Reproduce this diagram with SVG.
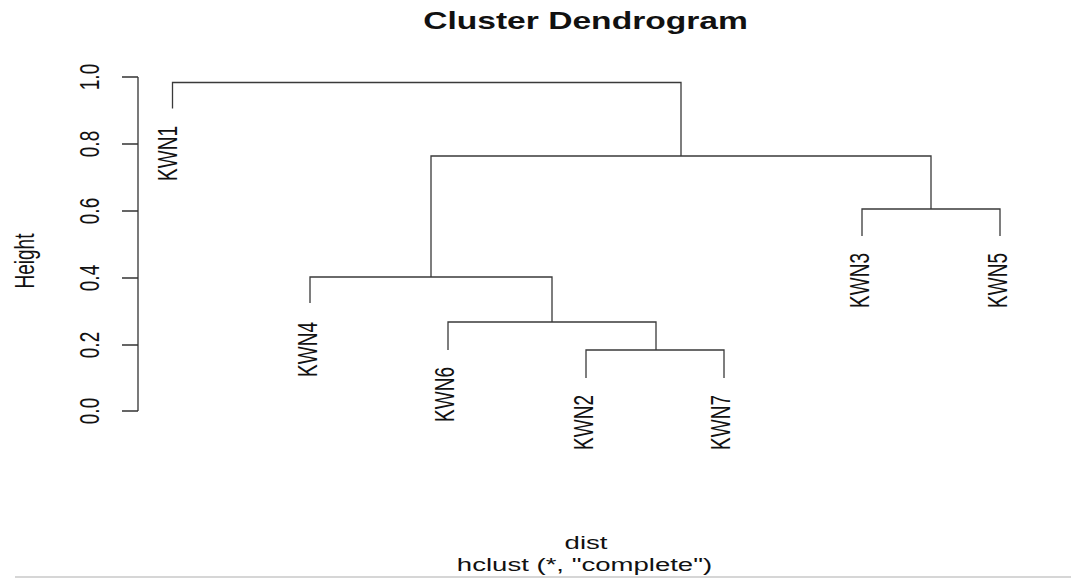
<svg xmlns="http://www.w3.org/2000/svg" width="1071" height="578" viewBox="0 0 1071 578">
<style>
text{font-family:"Liberation Sans",Arial,sans-serif;fill:#111}
.lab{font-size:19px}
.ttl{font-size:24px;font-weight:bold}
.tree{stroke:#3a3a3a;stroke-width:1.3;fill:none}
.axis{stroke:#333;stroke-width:1.3;fill:none}
</style>
<rect width="1071" height="578" fill="#fff"/>
<text class="ttl" text-anchor="middle" transform="translate(585.5,29) scale(1.4,1)">Cluster Dendrogram</text>
<g id="axis">
<path class="axis" d="M138,77V411M122,77H138M122,144H138M122,211H138M122,278H138M122,345H138M122,411H138"/>
<text class="lab" text-anchor="middle" transform="translate(98.5,77) scale(1.45,1) rotate(-90)">1.0</text>
<text class="lab" text-anchor="middle" transform="translate(98.5,144) scale(1.45,1) rotate(-90)">0.8</text>
<text class="lab" text-anchor="middle" transform="translate(98.5,211) scale(1.45,1) rotate(-90)">0.6</text>
<text class="lab" text-anchor="middle" transform="translate(98.5,278) scale(1.45,1) rotate(-90)">0.4</text>
<text class="lab" text-anchor="middle" transform="translate(98.5,345) scale(1.45,1) rotate(-90)">0.2</text>
<text class="lab" text-anchor="middle" transform="translate(98.5,411) scale(1.45,1) rotate(-90)">0.0</text>
<text class="lab" text-anchor="middle" transform="translate(33.5,261) scale(1.45,1) rotate(-90)">Height</text>
</g>
<g id="connectors">
<path class="tree" d="M172.5,108.5V82.5H681V156"/>
<path class="tree" d="M431,277V156H931V209"/>
<path class="tree" d="M862,236V209H1000V236"/>
<path class="tree" d="M310,303V277H552V322"/>
<path class="tree" d="M448,350V322H656V350"/>
<path class="tree" d="M586,378V350H724V378"/>
</g>
<g id="KWN1"><text class="lab" text-anchor="end" transform="translate(177,126) scale(1.45,1) rotate(-90)">KWN1</text></g>
<g id="KWN4"><text class="lab" text-anchor="end" transform="translate(316.5,322) scale(1.45,1) rotate(-90)">KWN4</text></g>
<g id="KWN6"><text class="lab" text-anchor="end" transform="translate(454,367) scale(1.45,1) rotate(-90)">KWN6</text></g>
<g id="KWN2"><text class="lab" text-anchor="end" transform="translate(593,395) scale(1.45,1) rotate(-90)">KWN2</text></g>
<g id="KWN7"><text class="lab" text-anchor="end" transform="translate(730,395) scale(1.45,1) rotate(-90)">KWN7</text></g>
<g id="KWN3"><text class="lab" text-anchor="end" transform="translate(869,253) scale(1.45,1) rotate(-90)">KWN3</text></g>
<g id="KWN5"><text class="lab" text-anchor="end" transform="translate(1007,253) scale(1.45,1) rotate(-90)">KWN5</text></g>
<text class="lab" text-anchor="middle" transform="translate(586,549) scale(1.45,1)">dist</text>
<text class="lab" text-anchor="middle" transform="translate(584.5,571) scale(1.45,1)">hclust (*, "complete")</text>
<line x1="15" y1="577" x2="1071" y2="577" stroke="#c8c8c8" stroke-width="1.5"/>
</svg>
